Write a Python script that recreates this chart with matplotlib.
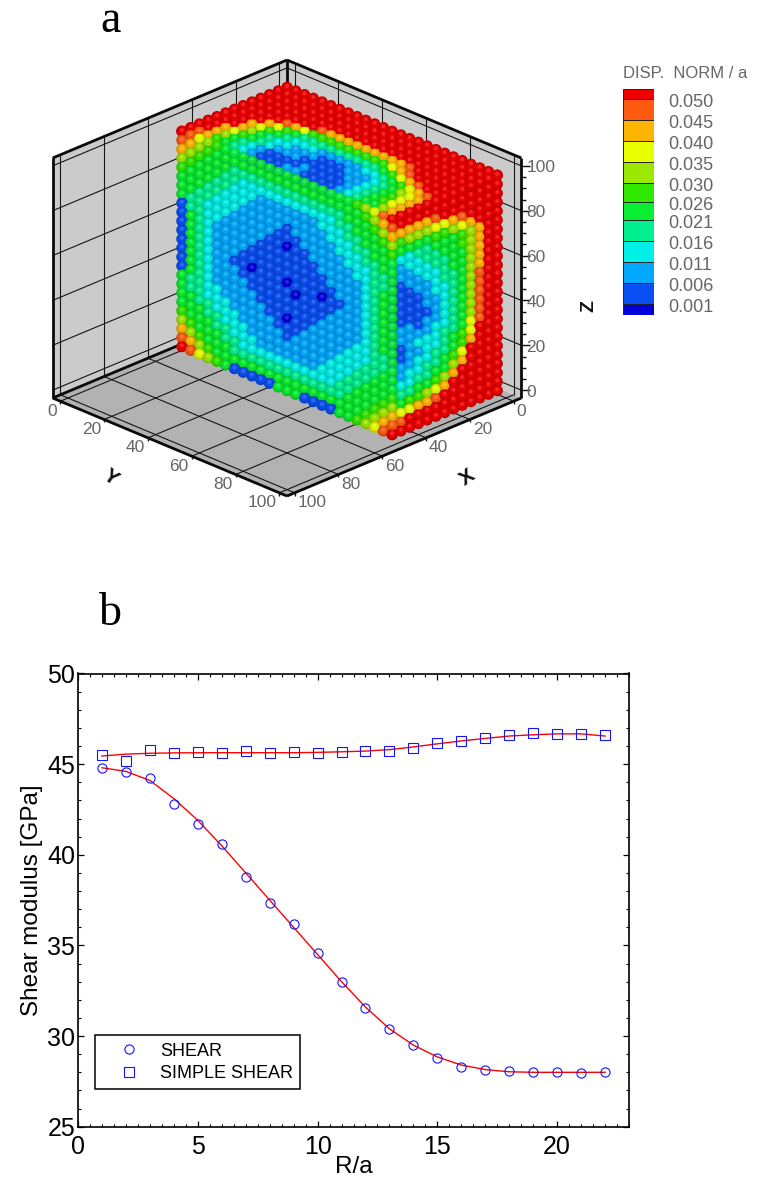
import numpy as np
import matplotlib
matplotlib.use("Agg")
import matplotlib.pyplot as plt
from matplotlib.colors import to_rgb
from matplotlib.collections import LineCollection
from matplotlib.ticker import MultipleLocator

plt.rcParams['font.family'] = ['Liberation Sans', 'DejaVu Sans']

# ---------- panel a data (colour band of each sphere) ----------
band_chars = '0123456789ab'
band_colors = ['#0000dc', '#0a50f5', '#00a8ff', '#00f0e8', '#00f090', '#08ee30',
               '#30e800', '#9ce800', '#e8ff00', '#ffb400', '#ff5a10', '#f00000']
cbar_levels = [0.001, 0.006, 0.011, 0.016, 0.021, 0.0255, 0.030, 0.035, 0.040, 0.045, 0.050]
cbar_labels = ['0.001', '0.006', '0.011', '0.016', '0.021', '0.026', '0.030', '0.035',
               '0.040', '0.045', '0.050']
lattice_x = [1, 5, 9, 13, 17, 21, 25, 29, 33, 37, 41, 45, 49]
lattice_y = [1, 5, 9, 13, 17, 21, 25, 29, 33, 37, 41, 45, 49, 53, 57, 61, 65, 69, 73, 77, 81, 85, 89, 93, 97]
lattice_z = [-1, 3, 7, 11, 15, 19, 23, 27, 31, 35, 39, 43, 47, 51, 55, 59, 63, 67, 71, 75, 79, 83, 87, 91, 95]

top_face = [
    "bbbbbbbbbbbbbbbbbbbbbbbbb",
    "bbbbbbbbbbbbbbbbbbbbbbbbb",
    "bbbbbbbbbbbbbbbbbbbbbbbbb",
    "bbbbbbbbbbbbbbbbbbbbbbbbb",
    "bbbbbbbba999999999abbbbbb",
    "bbbbba9866666666689abbbbb",
    "bbbb98654444444445689abbb",
    "bbb98654333222223345689ab",
    "bbb975433222111222345789b",
    "bb9865432221111122345689b",
    "bb9754321111211112345689b",
    "ba9654321112211112345579b",
    "ba8554321111111112345568a",
]

side_face = [
    "bbbbbbbbbbbbb",
    "bbbbbbbbbbbbb",
    "99999abbbbbbb",
    "66777889abbbb",
    "5555566789bbb",
    "33344555679bb",
    "22334455679bb",
    "12233445579bb",
    "11223345579bb",
    "11122344579bb",
    "1111233457abb",
    "1111223457abb",
    "1111123457abb",
    "1221223457abb",
    "1222233457abb",
    "1123334458abb",
    "1122334568bbb",
    "2223344569bbb",
    "223344568bbbb",
    "333445579bbbb",
    "34455679bbbbb",
    "5566789bbbbbb",
    "78899abbbbbbb",
    "9abbbbbbbbbbb",
    "bbbbbbbbbbbbb",
]

front_face = [
    "ba876555555555555555678ab",
    "a97655555555555555555679a",
    "9765554444444444444555679",
    "7655544333333333334455567",
    "6555443332222222333445556",
    "5554433322222222233344555",
    "5544333222221222223334455",
    "5443332222211122222333445",
    "1443322222110112222233445",
    "1543222221111111222223455",
    "1543222211111111122223455",
    "1543222111111111112223455",
    "1543221101110111011223455",
    "1543222111111011112223455",
    "1543222211111111122223455",
    "1543222221111111222223455",
    "5443322222110112222233445",
    "5443332222211122222333445",
    "5544333222221222223334455",
    "5554433322222222233344555",
    "6555443332222222333445556",
    "7655544333333333334455567",
    "9765554444444444444555679",
    "a97655555555555555555679a",
    "ba876511111555111155678ab",
]

grid_ticks = [0, 20, 40, 60, 80, 100]
minor_z = [5, 10, 15, 25, 30, 35, 45, 50, 55, 65, 70, 75, 85, 90, 95]

# ---------- panel b data ----------
R = list(range(1, 23))
shear = [44.8, 44.55, 44.25, 42.8, 41.7, 40.6, 38.75, 37.35, 36.2, 34.6, 33.0,
         31.55, 30.4, 29.5, 28.8, 28.3, 28.15, 28.05, 28.0, 28.0, 27.95, 28.0]
simple = [45.5, 45.2, 45.8, 45.6, 45.65, 45.6, 45.7, 45.6, 45.65, 45.6, 45.65,
          45.7, 45.75, 45.9, 46.15, 46.3, 46.45, 46.6, 46.7, 46.65, 46.65, 46.6]
shear_fit = [44.8, 44.6, 44.1, 43.1, 41.9, 40.5, 39.0, 37.5, 36.0, 34.5, 33.0,
             31.6, 30.4, 29.5, 28.85, 28.4, 28.15, 28.03, 28.0, 28.0, 28.0, 28.0]
simple_fit = [45.45, 45.55, 45.6, 45.62, 45.63, 45.63, 45.63, 45.63, 45.63, 45.65, 45.68,
              45.72, 45.8, 45.95, 46.12, 46.28, 46.42, 46.55, 46.62, 46.67, 46.67, 46.55]

W, H = 778, 1186
fig = plt.figure(figsize=(W / 100, H / 100), dpi=100, facecolor='white')

# ---------- panel a: oblique projection on a pixel canvas ----------
ax3 = fig.add_axes([0, 0, 1, 1])
ax3.set_xlim(0, W)
ax3.set_ylim(H, 0)
ax3.axis('off')
LO, HI = -3.5, 103.5


def P(x, y, z):
    return (287 + (y - x) * 2.19,
            300 + (x + y + 7) * 0.916 - (z + 3.5) * 2.243)


def poly(pts, **kw):
    xs, ys = zip(*[P(*p) for p in pts])
    ax3.fill(xs, ys, **kw)


poly([(LO, LO, LO), (HI, LO, LO), (HI, LO, HI), (LO, LO, HI)], color='#cbcbcb', lw=0, zorder=1)
poly([(LO, LO, LO), (LO, HI, LO), (LO, HI, HI), (LO, LO, HI)], color='#cbcbcb', lw=0, zorder=1)
poly([(LO, LO, LO), (HI, LO, LO), (HI, HI, LO), (LO, HI, LO)], color='#b2b2b2', lw=0, zorder=1)

thin = []
for t in grid_ticks:
    thin += [[P(t, LO, LO), P(t, LO, HI)], [P(LO, t, LO), P(LO, t, HI)],
             [P(HI, LO, t), P(LO, LO, t)], [P(LO, HI, t), P(LO, LO, t)],
             [P(t, LO, LO), P(t, HI, LO)], [P(LO, t, LO), P(HI, t, LO)]]
ax3.add_collection(LineCollection(thin, colors='#151515', linewidths=0.8, zorder=2))

thick = [[P(LO, LO, HI), P(HI, LO, HI)], [P(LO, LO, HI), P(LO, HI, HI)],
         [P(HI, LO, LO), P(HI, LO, HI)], [P(LO, HI, LO), P(LO, HI, HI)],
         [P(HI, LO, LO), P(HI, HI, LO)], [P(LO, HI, LO), P(HI, HI, LO)],
         [P(LO, LO, 85), P(LO, LO, HI)], [P(LO, LO, LO), P(HI, LO, LO)]]
ax3.add_collection(LineCollection(thick, colors='#0a0a0a', linewidths=2.0, zorder=3))

ticks = []
for t in grid_ticks:
    ticks += [[P(HI, t, LO), P(HI + 1.6, t + 1.6, LO)], [P(t, HI, LO), P(t + 1.6, HI + 1.6, LO)],
              [P(LO, HI, t), P(LO - 2, HI + 2, t)]]
for t in minor_z:
    ticks.append([P(LO, HI, t), P(LO - 1, HI + 1, t)])
ax3.add_collection(LineCollection(ticks, colors='#111111', linewidths=1.0, zorder=3))

label_kw = dict(color='#666666', fontsize=12.5, zorder=6)
for t in grid_ticks:
    px, py = P(HI, t, LO)
    ax3.text(px - 3, py + 10, str(t), ha='right', va='center', **label_kw)
    px, py = P(t, HI, LO)
    ax3.text(px + 3, py + 10, str(t), ha='left', va='center', **label_kw)
    px, py = P(LO, HI, t)
    ax3.text(px + 5, py + 2, str(t), ha='left', va='center', **label_kw)

ax3.text(110, 478, 'Y', rotation=-35, ha='center', va='center', fontsize=15, fontweight='bold', color='#111111')
ax3.text(467, 478, 'X', rotation=35, ha='center', va='center', fontsize=15, fontweight='bold', color='#111111')
ax3.text(589, 306, 'Z', rotation=90, ha='center', va='center', fontsize=14, fontweight='bold', color='#111111')

# spheres, painted back to front
sx, sy, sc = [], [], []


def add(x, y, z, ch):
    px, py = P(x, y, z)
    sx.append(px)
    sy.append(py)
    sc.append(to_rgb(band_colors[band_chars.index(ch)]))


for i, row in enumerate(top_face):
    for j, ch in enumerate(row):
        add(lattice_x[i], lattice_y[j], lattice_z[-1], ch)
for r, row in enumerate(side_face):
    for c, ch in enumerate(row):
        add(lattice_x[len(lattice_x) - 1 - c], lattice_y[-1], lattice_z[len(lattice_z) - 1 - r], ch)
for r, row in enumerate(front_face):
    for j, ch in enumerate(row):
        add(lattice_x[-1], lattice_y[j], lattice_z[len(lattice_z) - 1 - r], ch)

sx, sy, sc = np.array(sx), np.array(sy), np.array(sc)
ax3.scatter(sx, sy, s=66, c=sc * 0.8, linewidths=0, zorder=4)
ax3.scatter(sx, sy - 0.4, s=38, c=sc * 0.95, linewidths=0, zorder=4.1)
ax3.scatter(sx, sy - 1.2, s=8, c=sc * 0.85 + 0.15, linewidths=0, zorder=4.2)

# colour bar
ax_cb = fig.add_axes([623 / W, 1 - 315 / H, 31 / W, 226 / H])
edges = [cbar_levels[0] - 0.00265] + cbar_levels + [cbar_levels[-1] + 0.0025]
ax_cb.bar(0, np.diff(edges), bottom=edges[:-1], width=1, color=band_colors, edgecolor='#222222', linewidth=0.7)
ax_cb.set_xlim(-0.5, 0.5)
ax_cb.set_ylim(edges[0], edges[-1])
ax_cb.axis('off')
for lv, lab in zip(cbar_levels, cbar_labels):
    ax_cb.annotate(lab, (0.5, lv), xytext=(10, -2.5), textcoords='offset points', va='center', ha='left',
                   fontsize=13, color='#666666')
fig.text(623 / W, 1 - 73 / H, 'DISP.  NORM / a', fontsize=12, color='#666666', ha='left', va='center')

fig.text(111 / W, 1 - 21 / H, 'a', family='Liberation Serif', fontsize=33, ha='center', va='center', color='black')
fig.text(110 / W, 1 - 614 / H, 'b', family='Liberation Serif', fontsize=33, ha='center', va='center', color='black')

# ---------- panel b ----------
ax = fig.add_axes([78 / W, 1 - 1126.7 / H, (629 - 78) / W, (1126.7 - 673.5) / H])
ax.set_xlim(0, 23)
ax.set_ylim(25, 50)
ax.plot(R, shear_fit, color='#ff0000', lw=1.0, zorder=2)
ax.plot(R, simple_fit, color='#ff0000', lw=1.0, zorder=2)
l1, = ax.plot(R, shear, ls='none', marker='o', ms=6.6, mfc='none', mec='#1414ff', mew=0.8, label='SHEAR', zorder=3)
l2, = ax.plot(R, simple, ls='none', marker='s', ms=6.8, mfc='none', mec='#1414ff', mew=0.8, label='SIMPLE SHEAR', zorder=3)
ax.xaxis.set_major_locator(MultipleLocator(5))
ax.xaxis.set_minor_locator(MultipleLocator(0.5))
ax.yaxis.set_major_locator(MultipleLocator(5))
ax.yaxis.set_minor_locator(MultipleLocator(1))
ax.tick_params(which='major', direction='in', length=4, width=0.9, top=True, right=True, labelsize=18)
ax.tick_params(which='minor', direction='in', length=2.2, width=0.8, top=True, right=True)
ax.tick_params(axis='x', which='major', pad=6)
ax.tick_params(axis='y', which='major', pad=2)
for s in ax.spines.values():
    s.set_linewidth(1.2)
ax.set_xlabel('R/a', fontsize=17.5, labelpad=-2)
ax.set_ylabel('Shear modulus [GPa]', fontsize=17.5, labelpad=3)
leg = ax.legend(handles=[l1, l2], loc='lower left', bbox_to_anchor=(17 / 551, 37.5 / 453), borderaxespad=0,
                fontsize=13, fancybox=False, framealpha=1, edgecolor='black', handletextpad=0.2,
                borderpad=0.4, labelspacing=0.3, handlelength=3.0)
leg.get_frame().set_linewidth(1.1)

fig.savefig('out.png', dpi=100)
